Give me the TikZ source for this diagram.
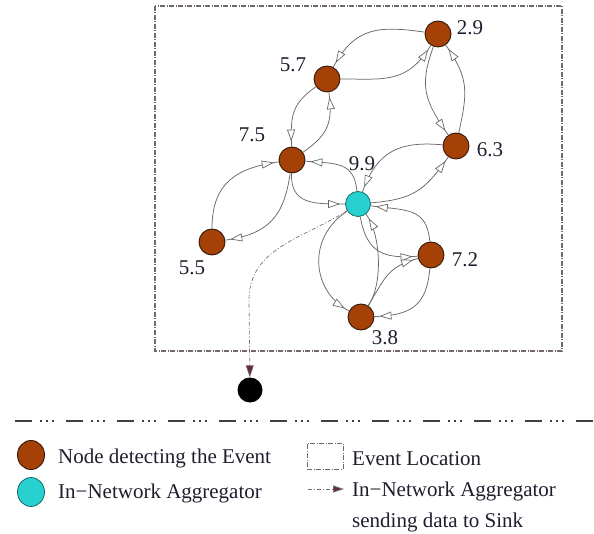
\documentclass[tikz,border=0pt]{standalone}
\usepackage{fontspec}
\setmainfont{Liberation Serif}
\usetikzlibrary{arrows.meta,shapes.geometric,decorations.markings}

\definecolor{nodebrown}{RGB}{165,64,6}
\definecolor{nodeedge}{RGB}{50,25,10}
\definecolor{aggcyan}{RGB}{40,208,208}
\definecolor{aggedge}{RGB}{20,110,110}
\definecolor{linkgray}{RGB}{105,105,105}
\definecolor{boxgray}{RGB}{115,105,105}
\definecolor{sinkpath}{RGB}{125,105,115}
\definecolor{sinkhead}{RGB}{95,45,65}
\definecolor{inktext}{RGB}{30,30,45}

\begin{document}
\begin{tikzpicture}[x=1pt,y=1pt,
  font=\fontsize{21}{25}\selectfont,
  every node/.append style={text=inktext},
  event/.style={circle, draw=nodeedge, fill=nodebrown, line width=0.9pt,
    minimum size=26pt, inner sep=0pt},
  agg/.style={circle, draw=aggedge, fill=aggcyan, line width=0.8pt,
    minimum size=25pt, inner sep=0pt},
  sinknode/.style={circle, fill=black, minimum size=25pt, inner sep=0pt},
  val/.style={inner sep=0pt},
  legtext/.style={anchor=west, inner sep=0pt},
  link/.style={draw=linkgray, line width=0.75pt,
    postaction={decorate},
    decoration={markings, mark=at position -5pt with
      {\arrow[linkgray, line width=0.7pt]{Triangle[open, length=12pt, width=8pt, fill=white]}}}},
  zonebox/.style={draw=boxgray, line width=1.1pt,
    dash pattern=on 5pt off 1.5pt on 1pt off 1.5pt},
  tosink/.style={draw=sinkpath, line width=0.7pt,
    dash pattern=on 4pt off 2pt on 1pt off 2pt,
    -{Triangle[length=12pt, width=8pt, fill=sinkhead]}},
  divider/.style={draw=black!75, line width=1.5pt,
    dash pattern=on 17pt off 8pt on 2pt off 4pt on 2pt off 4pt on 2pt off 12pt}
]
\useasboundingbox (0,0) rectangle (594,-534);

% event location
\draw[zonebox] (155,-6) rectangle (562,-351);

% sensor nodes
\node[event] (n29) at (438,-34) {};
\node[event] (n57) at (327,-79) {};
\node[event] (n75) at (292,-160) {};
\node[event] (n63) at (456,-146) {};
\node[event] (n55) at (212,-242) {};
\node[event] (n72) at (431,-255) {};
\node[event] (n38) at (361,-317) {};
\node[agg]   (n99) at (358,-204) {};

% readings
\node[val] (l29) at (470,-28) {2.9};
\node[val] (l57) at (293,-65) {5.7};
\node[val] (l75) at (252,-135) {7.5};
\node[val] (l99) at (362,-164) {9.9};
\node[val] (l63) at (490,-150) {6.3};
\node[val] (l55) at (192,-268) {5.5};
\node[val] (l72) at (465,-260) {7.2};
\node[val] (l38) at (385,-338) {3.8};

% exchanges between neighbours
\draw[link] (n29) to[out=172, in=62, looseness=1.2] (n57);
\draw[link] (n57) to[out=0, in=238, looseness=1.2] (n29);
\draw[link] (n29) to[out=250, in=125, looseness=1.2] (n63);
\draw[link] (n63) to[out=78, in=-55, looseness=1.2] (n29);
\draw[link] (n57) to[out=215, in=92, looseness=1.2] (n75);
\draw[link] (n75) to[out=35, in=-82, looseness=1.2] (n57);
\draw[link] (n63) to[out=175, in=70, looseness=1.2] (n99);
\draw[link] (n99) to[out=5, in=235, looseness=1.2] (n63);
\draw[link] (n99) to[out=95, in=-5, looseness=1.3] (n75);
\draw[link] (n75) to[out=268, in=180, looseness=1.3] (n99);
\draw[link] (n75) to[out=262, in=8, looseness=1.2] (n55);
\draw[link] (n55) to[out=90, in=188, looseness=1.2] (n75);
\draw[link] (n72) to[out=95, in=-8, looseness=1.3] (n99);
\draw[link] (n99) to[out=-80, in=185, looseness=1.3] (n72);
\draw[link] (n99) .. controls (306,-238) and (312,-292) .. (n38);
\draw[link] (n38) .. controls (384,-282) and (380,-232) .. (n99);
\draw[link] (n38) to[out=58, in=195, looseness=1.2] (n72);
\draw[link] (n72) to[out=265, in=2, looseness=1.3] (n38);

% sink
\node[sinknode] (sink) at (250,-390) {};
\draw[tosink] (n99) to[out=212, in=90] (249,-300) -- (sink);

% divider
\draw[divider] (15,-421) -- (594,-421);

% legend
\node[event, ellipse, minimum width=27pt, minimum height=29pt] (legE) at (31,-455) {};
\node[legtext] (legEt) at (58,-458) {Node detecting the Event};
\node[agg, ellipse, minimum width=27pt, minimum height=29pt] (legA) at (31,-492) {};
\node[legtext] (legAt) at (58,-493) {In−Network Aggregator};
\node[zonebox, minimum width=36pt, minimum height=26pt, line width=0.9pt,
  inner sep=0pt] (legZ) at (325,-456) {};
\node[legtext] (legZt) at (352,-459) {Event Location};
\coordinate (legS1) at (308,-489);
\coordinate (legS2) at (344,-489);
\draw[tosink, line width=0.8pt, -{Triangle[length=11pt, width=7pt, fill=sinkhead]}] (legS1) -- (legS2);
\node[legtext] (legSt) at (352,-491) {In−Network Aggregator};
\node[legtext] (legSt2) at (352,-522) {sending data to Sink};
\end{tikzpicture}
\end{document}
